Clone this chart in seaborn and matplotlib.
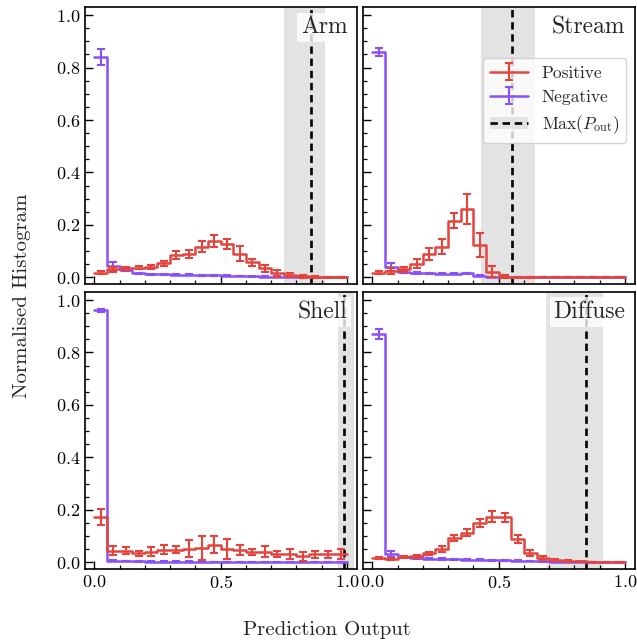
import numpy as np
import matplotlib
matplotlib.use("Agg")
import matplotlib.pyplot as plt
from matplotlib.patches import Patch
from matplotlib.lines import Line2D
from matplotlib.ticker import MultipleLocator
import seaborn as sns

# ---------------- data ----------------
bin_edges = np.linspace(0.0, 1.0, 21)
bin_centers = 0.5 * (bin_edges[:-1] + bin_edges[1:])

panel_names = ["Arm", "Stream", "Shell", "Diffuse"]

arm_pos = [0.018, 0.030, 0.034, 0.037, 0.040, 0.053, 0.085, 0.090, 0.117, 0.139,
           0.126, 0.090, 0.057, 0.034, 0.015, 0.009, 0.004, 0.002, 0.001, 0.000]
arm_pos_err = [0.005, 0.008, 0.007, 0.007, 0.008, 0.010, 0.014, 0.015, 0.022, 0.022,
               0.019, 0.028, 0.013, 0.013, 0.013, 0.009, 0.005, 0.003, 0.002, 0.001]
arm_neg = [0.840, 0.043, 0.028, 0.015, 0.012, 0.011, 0.010, 0.009, 0.008, 0.007,
           0.006, 0.005, 0.004, 0.003, 0.003, 0.002, 0.001, 0.001, 0.000, 0.000]
arm_neg_err = [0.030, 0.017, 0.004, 0.003, 0.002, 0.002, 0.002, 0.002, 0.002, 0.002,
               0.002, 0.001, 0.001, 0.001, 0.001, 0.001, 0.001, 0.001, 0.000, 0.000]

stream_pos = [0.018, 0.025, 0.030, 0.052, 0.089, 0.117, 0.216, 0.260, 0.123, 0.022,
              0.003, 0.001, 0.000, 0.000, 0.000, 0.000, 0.000, 0.000, 0.000, 0.000]
stream_pos_err = [0.005, 0.012, 0.010, 0.016, 0.022, 0.030, 0.028, 0.057, 0.045, 0.022,
                  0.004, 0.002, 0.001, 0.000, 0.000, 0.000, 0.000, 0.000, 0.000, 0.000]
stream_neg = [0.860, 0.038, 0.022, 0.016, 0.015, 0.014, 0.014, 0.015, 0.006, 0.001,
              0.000, 0.000, 0.000, 0.000, 0.000, 0.000, 0.000, 0.000, 0.000, 0.000]
stream_neg_err = [0.015, 0.015, 0.004, 0.003, 0.003, 0.003, 0.003, 0.003, 0.002, 0.001,
                  0.000, 0.000, 0.000, 0.000, 0.000, 0.000, 0.000, 0.000, 0.000, 0.000]

shell_pos = [0.172, 0.043, 0.043, 0.034, 0.040, 0.047, 0.047, 0.052, 0.053, 0.066,
             0.050, 0.047, 0.040, 0.040, 0.030, 0.030, 0.022, 0.030, 0.030, 0.032]
shell_pos_err = [0.032, 0.017, 0.013, 0.010, 0.016, 0.017, 0.013, 0.034, 0.045, 0.032,
                 0.037, 0.019, 0.011, 0.020, 0.011, 0.019, 0.016, 0.014, 0.014, 0.019]
shell_neg = [0.960, 0.006, 0.004, 0.003, 0.002, 0.002, 0.002, 0.002, 0.001, 0.001,
             0.001, 0.001, 0.001, 0.001, 0.001, 0.001, 0.001, 0.001, 0.001, 0.001]
shell_neg_err = [0.006, 0.002, 0.001, 0.001, 0.001, 0.001, 0.001, 0.001, 0.001, 0.001,
                 0.001, 0.001, 0.001, 0.001, 0.001, 0.001, 0.001, 0.001, 0.001, 0.001]

diffuse_pos = [0.015, 0.011, 0.018, 0.022, 0.034, 0.051, 0.092, 0.113, 0.149, 0.174,
               0.172, 0.088, 0.034, 0.015, 0.008, 0.005, 0.003, 0.001, 0.001, 0.000]
diffuse_pos_err = [0.004, 0.004, 0.004, 0.005, 0.006, 0.012, 0.011, 0.012, 0.016, 0.020,
                   0.017, 0.014, 0.011, 0.007, 0.004, 0.003, 0.002, 0.001, 0.001, 0.001]
diffuse_neg = [0.870, 0.030, 0.018, 0.015, 0.013, 0.012, 0.011, 0.010, 0.009, 0.008,
               0.007, 0.006, 0.004, 0.003, 0.002, 0.001, 0.001, 0.000, 0.000, 0.000]
diffuse_neg_err = [0.020, 0.012, 0.003, 0.002, 0.002, 0.002, 0.002, 0.002, 0.002, 0.002,
                   0.001, 0.001, 0.001, 0.001, 0.001, 0.001, 0.000, 0.000, 0.000, 0.000]

# Max(P_out) threshold: (band low, band high, line position)
arm_pmax = (0.752, 0.914, 0.859)
stream_pmax = (0.430, 0.645, 0.552)
shell_pmax = (0.966, 1.030, 0.990)
diffuse_pmax = (0.688, 0.913, 0.847)

panels = [
    (arm_pos, arm_pos_err, arm_neg, arm_neg_err, arm_pmax),
    (stream_pos, stream_pos_err, stream_neg, stream_neg_err, stream_pmax),
    (shell_pos, shell_pos_err, shell_neg, shell_neg_err, shell_pmax),
    (diffuse_pos, diffuse_pos_err, diffuse_neg, diffuse_neg_err, diffuse_pmax),
]

# ---------------- style ----------------
sns.set_style("ticks")
plt.rcParams.update({
    "font.family": ["cmr10", "DejaVu Serif"],
    "mathtext.fontset": "cm",
    "axes.formatter.use_mathtext": True,
    "axes.unicode_minus": False,
    "xtick.direction": "in",
    "ytick.direction": "in",
    "xtick.major.size": 5.5,
    "ytick.major.size": 5.5,
    "xtick.minor.size": 3.0,
    "ytick.minor.size": 3.0,
    "xtick.major.width": 1.0,
    "ytick.major.width": 1.0,
    "xtick.minor.width": 0.9,
    "ytick.minor.width": 0.9,
    "axes.linewidth": 1.2,
    "axes.edgecolor": "black",
    "xtick.color": "black",
    "ytick.color": "black",
})

RED = "#e5443d"
PURPLE = "#8a50f7"
BAND = "#e3e3e3"
DASH = (0, (2.8, 1.8))


def step_hist(ax, values, color, z):
    heights = np.append(np.asarray(values, dtype=float), values[-1])
    sns.lineplot(x=bin_edges, y=heights, drawstyle="steps-post", estimator=None,
                 sort=False, color=color, linewidth=1.8, ax=ax, zorder=z)


fig, axes = plt.subplots(2, 2, figsize=(6.37, 6.44), dpi=100, sharex=True, sharey=True)
fig.subplots_adjust(left=0.1334, right=0.9969, top=0.9887, bottom=0.1165,
                    wspace=0.022, hspace=0.029)

for ax, name, (pos, pos_err, neg, neg_err, pmax) in zip(axes.flat, panel_names, panels):
    lo, hi, line = pmax
    ax.axvspan(lo, hi, color=BAND, lw=0, zorder=0)
    ax.axvline(line, color="black", ls=DASH, lw=1.9, zorder=1)

    step_hist(ax, neg, PURPLE, 2)
    ax.errorbar(bin_centers, neg, yerr=neg_err, fmt="none", ecolor=PURPLE,
                elinewidth=1.5, capsize=3.2, capthick=1.5, zorder=2)
    step_hist(ax, pos, RED, 3)
    ax.errorbar(bin_centers, pos, yerr=pos_err, fmt="none", ecolor=RED,
                elinewidth=1.5, capsize=3.2, capthick=1.5, zorder=3)

    ax.text(0.965, 0.968, name, transform=ax.transAxes, ha="right", va="top",
            fontsize=17, zorder=5,
            bbox=dict(facecolor="white", edgecolor="none", alpha=0.8, pad=2.5))

    ax.set_xlim(-0.037, 1.04)
    ax.set_ylim(-0.026, 1.03)
    ax.xaxis.set_major_locator(MultipleLocator(0.5))
    ax.xaxis.set_minor_locator(MultipleLocator(0.1))
    ax.yaxis.set_major_locator(MultipleLocator(0.2))
    ax.yaxis.set_minor_locator(MultipleLocator(0.05))
    ax.tick_params(axis="both", which="both", top=False, right=False, labelsize=13)
    ax.set_xlabel("")
    ax.set_ylabel("")
    for sp in ax.spines.values():
        sp.set_visible(True)

# legend in Stream panel
ax_leg = axes[0, 1]
h_pos = ax_leg.errorbar([np.nan], [np.nan], yerr=[0.1], color=RED, lw=1.8,
                        elinewidth=1.5, capsize=3.2, capthick=1.5)
h_neg = ax_leg.errorbar([np.nan], [np.nan], yerr=[0.1], color=PURPLE, lw=1.8,
                        elinewidth=1.5, capsize=3.2, capthick=1.5)
h_max = (Patch(facecolor=BAND, edgecolor="none"),
         Line2D([], [], color="black", ls=DASH, lw=1.9))
ax_leg.legend([h_pos, h_neg, h_max], ["Positive", "Negative", r"Max($P_{\rm out}$)"],
              loc="upper right", bbox_to_anchor=(0.967, 0.815), borderaxespad=0,
              fontsize=12.5, frameon=True, framealpha=0.8, edgecolor="0.8",
              handlelength=2.2)

fig.text(0.513, 0.022, "Prediction Output", ha="center", va="center", fontsize=15)
fig.text(0.034, 0.54, "Normalised Histogram", ha="center", va="center",
         rotation=90, fontsize=15)

fig.savefig("out.png", dpi=100)
